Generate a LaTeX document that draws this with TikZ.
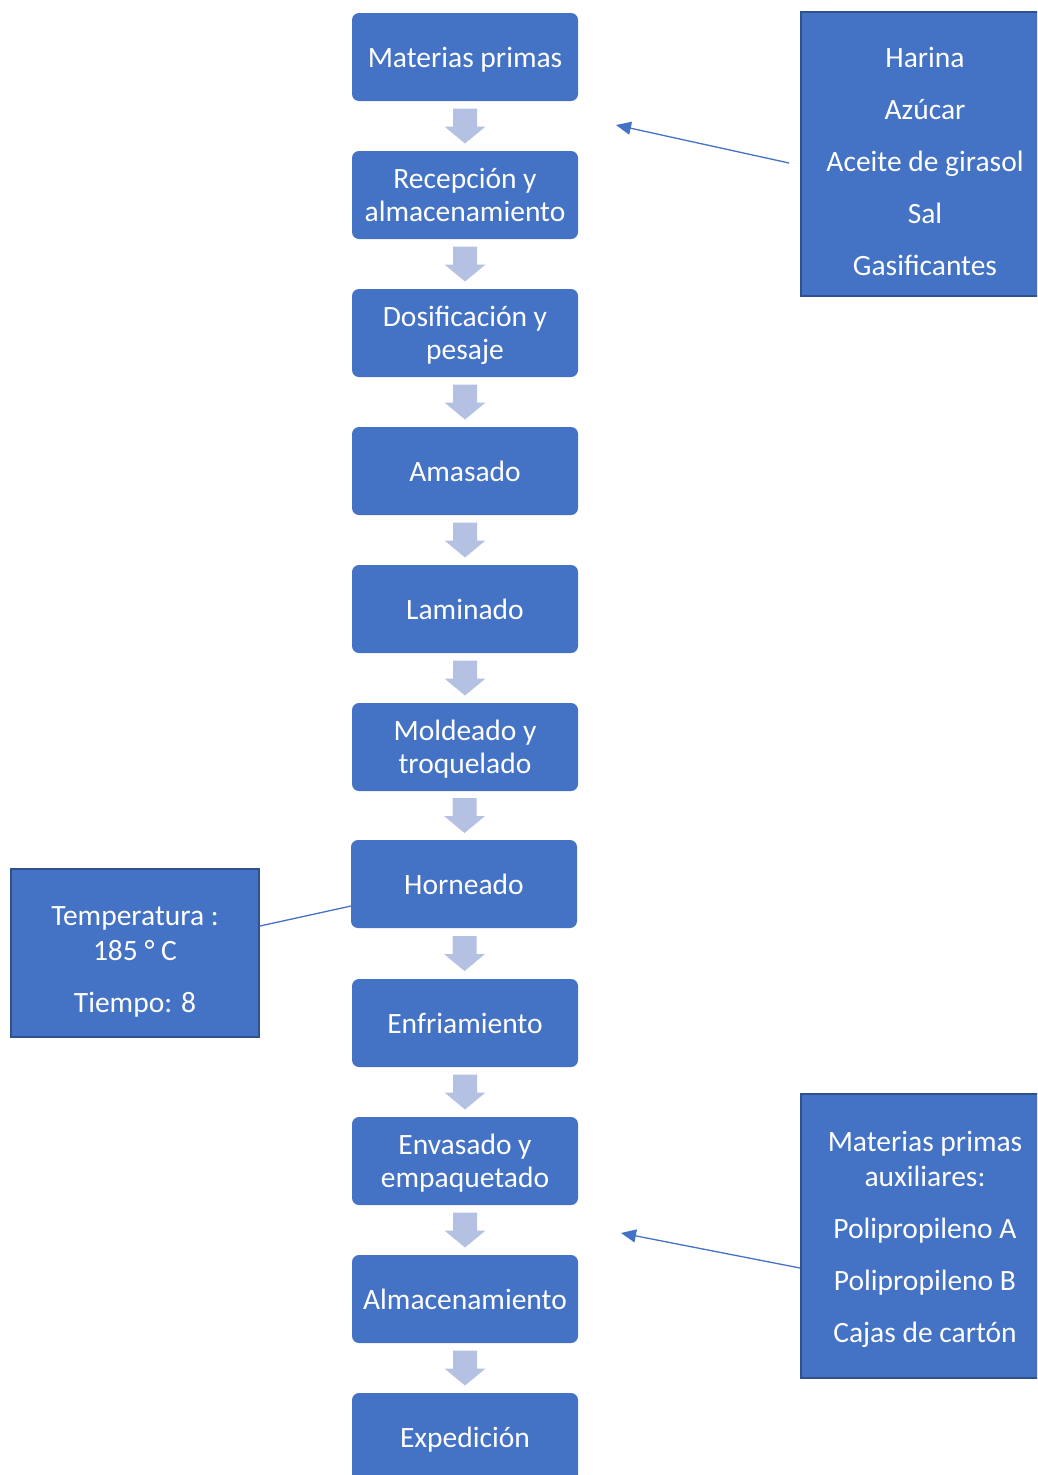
\documentclass[tikz,border=0pt]{standalone}
\usepackage{fontspec}
\setmainfont{Carlito}
\usetikzlibrary{calc,arrows.meta}
\definecolor{boxblue}{HTML}{4472C4}
\definecolor{edgeblue}{HTML}{2F528F}
\definecolor{arrowgray}{HTML}{B4C1E3}
\newcommand\flowarrow[2]{%
  \path ($(#1.south)!0.5!(#2.north)$) coordinate (m);
  \fill[barrow] ([shift={(-12,-17.5)}]m) -- ([shift={(12,-17.5)}]m) -- ([shift={(12,0.5)}]m) -- ([shift={(20.5,0.5)}]m) -- ([shift={(0,17.5)}]m) -- ([shift={(-20.5,0.5)}]m) -- ([shift={(-12,0.5)}]m) -- cycle;}
\begin{document}
\begin{tikzpicture}[x=1pt,y=-1pt,
  stepbox/.style={rectangle, rounded corners=7pt, fill=boxblue, text=white, minimum width=226pt, minimum height=88pt, align=center, font=\fontsize{29.5}{33}\selectfont, inner sep=0pt, text depth=0pt},
  sidebox/.style={rectangle, fill=boxblue, draw=edgeblue, line width=2pt, inner sep=0pt},
  sidetext/.style={text=white, align=center, font=\fontsize{29.5}{35}\selectfont, inner sep=0pt},
  feed/.style={draw=boxblue, line width=1.3pt},
  barrow/.style={fill=arrowgray}]
\clip (0,0) rectangle (1037,1475);
\fill[white] (0,0) rectangle (1037,1475);
% main chain
\node[stepbox, text height=20.5pt] (n1) at (465,57) {Materias primas};
\node[stepbox] (n2) at (465,195) {Recepción y\\almacenamiento};
\node[stepbox] (n3) at (465,333) {Dosificación y\\pesaje};
\node[stepbox, text height=20.5pt] (n4) at (465,471) {Amasado};
\node[stepbox, text height=20.5pt] (n5) at (465,609) {Laminado};
\node[stepbox] (n6) at (465,747) {Moldeado y\\troquelado};
\node[stepbox, text height=20.5pt] (n7) at (464,884) {Horneado};
\node[stepbox, text height=20.5pt] (n8) at (465,1023) {Enfriamiento};
\node[stepbox] (n9) at (465,1161) {Envasado y\\empaquetado};
\node[stepbox, text height=20.5pt] (n10) at (465,1299) {Almacenamiento};
\node[stepbox, text height=20.5pt] (n11) at (465,1437) {Expedición};
\flowarrow{n1}{n2}
\flowarrow{n2}{n3}
\flowarrow{n3}{n4}
\flowarrow{n4}{n5}
\flowarrow{n5}{n6}
\flowarrow{n6}{n7}
\flowarrow{n7}{n8}
\flowarrow{n8}{n9}
\flowarrow{n9}{n10}
\flowarrow{n10}{n11}
% side boxes
\node[sidebox, minimum width=244pt, minimum height=284pt] (s1) at (923,154) {};
\node[sidetext] (s1t) at (925,161.5) {Harina\\[17pt]Azúcar\\[17pt]Aceite de girasol\\[17pt]Sal\\[17pt]Gasificantes};
\node[sidebox, minimum width=248pt, minimum height=168pt] (s2) at (135,953) {};
\node[sidetext] (s2t) at (135,962) {Temperatura :\\185 ° C\\[17pt]Tiempo: 8};
\node[sidebox, minimum width=244pt, minimum height=284pt] (s3) at (923,1236) {};
\node[sidetext] (s3t) at (925,1239) {Materias primas\\auxiliares:\\[17pt]Polipropileno A\\[17pt]Polipropileno B\\[17pt]Cajas de cartón};
% connectors
\coordinate (f1s) at (789,163);
\coordinate (f1e) at (616,125);
\draw[feed,-{Triangle[length=15pt,width=13pt]}] (f1s) -- (f1e);
\coordinate (f2s) at (260,926);
\coordinate (f2e) at (351,906);
\draw[feed] (f2s) -- (f2e);
\coordinate (f3s) at (800,1268);
\coordinate (f3e) at (621,1233);
\draw[feed,-{Triangle[length=15pt,width=13pt]}] (f3s) -- (f3e);
\end{tikzpicture}
\end{document}
